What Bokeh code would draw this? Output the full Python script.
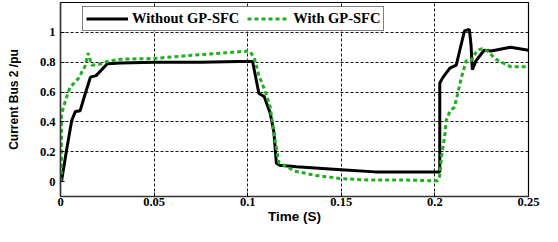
from bokeh.plotting import figure
from bokeh.models import Range1d, FixedTicker, Legend, LegendItem
from bokeh.embed import file_html
from bokeh.resources import INLINE

# Without GP-SFC (black solid)
time_without = [0.0005, 0.0035, 0.006, 0.008, 0.0105, 0.013, 0.016, 0.019, 0.022, 0.025,
                0.032, 0.05, 0.075, 0.095, 0.1026, 0.106, 0.1088, 0.112, 0.114, 0.1153,
                0.117, 0.126, 0.15, 0.168, 0.19, 0.2009, 0.2026, 0.2026, 0.2044, 0.208,
                0.2114, 0.2132, 0.2158, 0.2184, 0.2193, 0.22, 0.222, 0.2263, 0.23, 0.2404, 0.25]
current_without = [0.0, 0.23, 0.41, 0.47, 0.475, 0.58, 0.70, 0.71, 0.75, 0.79,
                   0.795, 0.80, 0.80, 0.805, 0.805, 0.59, 0.57, 0.46, 0.33, 0.125,
                   0.11, 0.10, 0.08, 0.065, 0.065, 0.065, 0.065, 0.66, 0.70, 0.76,
                   0.78, 0.875, 1.01, 1.02, 0.915, 0.75, 0.81, 0.88, 0.875, 0.90, 0.88]

# With GP-SFC (green dotted)
time_with = [0.0, 0.0005, 0.0005, 0.0026, 0.005, 0.0095, 0.013, 0.0148, 0.0167, 0.022,
             0.025, 0.032, 0.05, 0.074, 0.09, 0.101, 0.1035, 0.106, 0.1095, 0.112,
             0.1147, 0.1167, 0.121, 0.125, 0.137, 0.15, 0.165, 0.185, 0.2, 0.2015,
             0.2026, 0.2035, 0.2053, 0.206, 0.208, 0.2105, 0.212, 0.214, 0.2167, 0.2193,
             0.2226, 0.2253, 0.228, 0.2325, 0.2404, 0.25]
current_with = [0.0, 0.06, 0.45, 0.54, 0.63, 0.69, 0.77, 0.86, 0.78, 0.79,
                0.805, 0.82, 0.825, 0.85, 0.865, 0.875, 0.83, 0.71, 0.60, 0.50,
                0.27, 0.125, 0.10, 0.07, 0.04, 0.02, 0.01, 0.01, 0.005, 0.005,
                0.04, 0.165, 0.31, 0.41, 0.47, 0.50, 0.58, 0.69, 0.81, 0.81,
                0.88, 0.89, 0.875, 0.82, 0.77, 0.77]

x_ticks = [0, 0.05, 0.1, 0.15, 0.2, 0.25]
x_tick_labels = ["0", "0.05", "0.1", "0.15", "0.2", "0.25"]
y_ticks = [0, 0.2, 0.4, 0.6, 0.8, 1.0]
y_tick_labels = ["0", "0.2", "0.4", "0.6", "0.8", "1"]
series_names = ["Without GP-SFC", "With GP-SFC"]

p = figure(width=542, height=226, output_backend="svg", toolbar_location=None,
           x_range=Range1d(0, 0.25), y_range=Range1d(-0.1, 1.2),
           min_border_left=60, min_border_right=14, min_border_top=2, min_border_bottom=24)
p.background_fill_color = "white"
p.border_fill_color = "white"
p.outline_line_color = "black"
p.outline_line_width = 1.2

r_without = p.line(time_without, current_without, line_color="black", line_width=3)
r_with = p.line(time_with, current_with, line_color="#22ad22", line_width=3, line_dash="4 3")

p.xaxis.ticker = FixedTicker(ticks=x_ticks)
p.yaxis.ticker = FixedTicker(ticks=y_ticks)
p.xaxis.major_label_overrides = {t: l for t, l in zip(x_ticks, x_tick_labels)}
p.yaxis.major_label_overrides = {t: l for t, l in zip(y_ticks, y_tick_labels)}

for ax in (p.xaxis, p.yaxis):
    ax.major_label_text_font = "Liberation Serif"
    ax.major_label_text_font_style = "bold"
    ax.major_label_text_font_size = "12.5px"
    ax.major_label_text_color = "black"
    ax.axis_label_text_font = "Liberation Sans"
    ax.axis_label_text_font_style = "bold"
    ax.axis_label_text_color = "black"
    ax.major_tick_in = 4
    ax.major_tick_out = 0
    ax.minor_tick_line_color = None
    ax.axis_line_color = "#333333"
    ax.axis_line_width = 1.5
    ax.major_tick_line_color = "black"

p.xaxis.axis_label = "Time (S)"
p.yaxis.axis_label = "Current Bus 2 /pu"
p.xaxis.axis_label_text_font_size = "13.5px"
p.yaxis.axis_label_text_font_size = "12px"
p.xaxis.major_label_standoff = 1
p.xaxis.axis_label_standoff = 0
p.yaxis.major_label_standoff = 5
p.yaxis.axis_label_standoff = 16

p.grid.grid_line_color = "black"
p.grid.grid_line_dash = "3 2"
p.grid.grid_line_width = 1
p.grid.grid_line_alpha = 0.9
p.xgrid.ticker = FixedTicker(ticks=x_ticks[1:-1])
p.ygrid.ticker = FixedTicker(ticks=y_ticks[1:])

legend = Legend(items=[LegendItem(label=series_names[0], renderers=[r_without]),
                       LegendItem(label=series_names[1], renderers=[r_with])],
                orientation="horizontal", location=(22, 165))
legend.label_text_font = "Liberation Serif"
legend.label_text_font_style = "bold"
legend.label_text_font_size = "14.5px"
legend.label_text_color = "black"
legend.glyph_width = 42
legend.glyph_height = 13
legend.label_height = 13
legend.label_standoff = 4
legend.spacing = 8
legend.padding = 3
legend.margin = 0
legend.border_line_color = "black"
legend.border_line_width = 1.5
legend.background_fill_color = "white"
legend.background_fill_alpha = 1
p.add_layout(legend)

open("out.html", "w").write(file_html(p, INLINE))
